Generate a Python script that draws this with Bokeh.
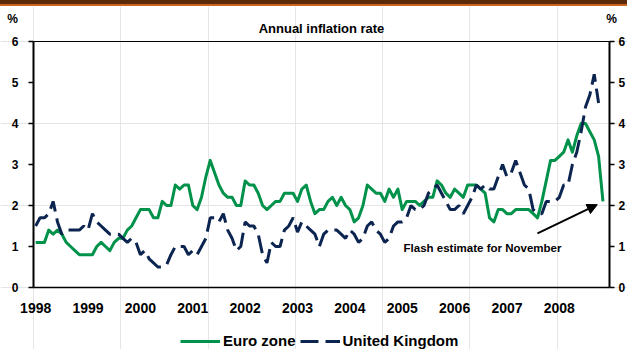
from bokeh.plotting import figure
from bokeh.models import Range1d, Label, Arrow, NormalHead, Legend, LegendItem, Spacer
from bokeh.core.properties import value
from bokeh.layouts import column
from bokeh.embed import file_html
from bokeh.resources import INLINE

# ---------------- data ----------------
years = ["1998", "1999", "2000", "2001", "2002", "2003", "2004", "2005", "2006", "2007", "2008"]
y_ticks = [0, 1, 2, 3, 4, 5, 6]

# monthly annual inflation, Jan 1998 - Nov 2008
euro_zone = [
    1.1, 1.1, 1.1, 1.4, 1.3, 1.4, 1.3, 1.1, 1.0, 0.9, 0.8, 0.8,
    0.8, 0.8, 1.0, 1.1, 1.0, 0.9, 1.1, 1.2, 1.2, 1.4, 1.5, 1.7,
    1.9, 1.9, 1.9, 1.7, 1.7, 2.1, 2.0, 2.0, 2.5, 2.4, 2.5, 2.5,
    2.0, 1.9, 2.2, 2.7, 3.1, 2.8, 2.5, 2.3, 2.2, 2.2, 2.0, 2.0,
    2.6, 2.5, 2.5, 2.3, 2.0, 1.9, 2.0, 2.1, 2.1, 2.3, 2.3, 2.3,
    2.1, 2.4, 2.5, 2.1, 1.8, 1.9, 1.9, 2.1, 2.2, 2.0, 2.2, 2.0,
    1.9, 1.6, 1.7, 2.0, 2.5, 2.4, 2.3, 2.3, 2.1, 2.4, 2.2, 2.4,
    1.9, 2.1, 2.1, 2.1, 2.0, 2.1, 2.2, 2.2, 2.6, 2.5, 2.3, 2.2,
    2.4, 2.3, 2.2, 2.5, 2.5, 2.5, 2.4, 2.3, 1.7, 1.6, 1.9, 1.9,
    1.8, 1.8, 1.9, 1.9, 1.9, 1.9, 1.8, 1.7, 2.1, 2.6, 3.1, 3.1,
    3.2, 3.3, 3.6, 3.3, 3.7, 4.0, 4.0, 3.8, 3.6, 3.2, 2.1,
]
# Jan 1998 - Oct 2008
united_kingdom = [
    1.5, 1.7, 1.7, 1.8, 2.1, 1.6, 1.3, 1.4, 1.4, 1.4, 1.4, 1.5,
    1.4, 1.8, 1.6, 1.5, 1.4, 1.3, 1.3, 1.3, 1.2, 1.1, 1.2, 1.1,
    0.8, 0.9, 0.7, 0.6, 0.5, 0.5, 0.55, 0.8, 1.0, 1.0, 1.0, 0.8,
    0.9, 0.8, 1.0, 1.2, 1.7, 1.7, 1.6, 1.8, 1.4, 1.2, 0.9, 1.0,
    1.6, 1.5, 1.5, 1.3, 0.8, 0.6, 1.1, 1.0, 1.0, 1.4, 1.5, 1.7,
    1.35, 1.6, 1.5, 1.4, 1.3, 1.0, 1.3, 1.4, 1.4, 1.4, 1.3, 1.2,
    1.4, 1.3, 1.1, 1.2, 1.5, 1.6, 1.4, 1.3, 1.1, 1.2, 1.5, 1.6,
    1.6, 1.7, 2.0, 1.9, 1.9, 2.0, 2.3, 2.4, 2.5, 2.3, 2.1, 1.9,
    1.9, 2.0, 1.8, 2.0, 2.2, 2.5, 2.4, 2.5, 2.4, 2.4, 2.7, 3.0,
    2.7, 2.8, 3.1, 2.8, 2.5, 2.4, 1.9, 1.8, 1.8, 2.1, 2.1, 2.1,
    2.2, 2.5, 2.5, 3.0, 3.3, 3.8, 4.4, 4.7, 5.2, 4.5,
]

# ---------------- geometry (pixels) ----------------
W, H = 627, 343                   # figure canvas (a 6px banner sits above it)
PLOT_L, PLOT_R = 33, 609          # plot-area edges, px from canvas left
PLOT_B, PLOT_T = 62, 308          # plot-area edges, px from canvas bottom
n_months = 12 * len(years)
y_max = y_ticks[-1]
sx = (PLOT_R - PLOT_L) / n_months        # px per month
sy = (PLOT_T - PLOT_B) / y_max           # px per percentage point
def px_x(px):  # canvas px -> months
    return (px - PLOT_L) / sx
def px_y(px):  # canvas px (from bottom) -> %
    return (px - PLOT_B) / sy

x_euro = [i + 0.5 for i in range(len(euro_zone))]
x_uk = [i + 0.5 for i in range(len(united_kingdom))]

GREEN = "#00924a"
NAVY = "#0c2550"
FONT = "Liberation Sans"

p = figure(width=W, height=H, output_backend="svg", toolbar_location=None,
           x_range=Range1d(px_x(0), px_x(W)), y_range=Range1d(px_y(0), px_y(H)),
           x_axis_location=None, y_axis_location=None,
           min_border=0, min_border_left=0, min_border_right=0,
           min_border_top=0, min_border_bottom=0,
           background_fill_color="white", border_fill_color="white",
           outline_line_color=None)
p.title.text = ""

# ---------------- axes and plot-area box ----------------
tick = 5 / sx
p.segment(x0=[0, 0, n_months, 0], y0=[0, y_max, 0, 0],
          x1=[n_months, n_months, n_months, 0], y1=[0, y_max, y_max, y_max],
          line_color="black", line_width=[1.5, 1, 2, 2])
p.segment(x0=[0] * len(y_ticks), x1=[-tick] * len(y_ticks), y0=y_ticks, y1=y_ticks,
          line_color="black", line_width=1.5)
p.segment(x0=[n_months] * len(y_ticks), x1=[n_months + tick] * len(y_ticks),
          y0=y_ticks, y1=y_ticks, line_color="black", line_width=1.5)

ylab = [str(v) for v in y_ticks]
p.text(x=[-15 / sx] * len(y_ticks), y=y_ticks, text=ylab, text_align="right",
       text_baseline="middle", text_font=value(FONT), text_font_style="bold",
       text_font_size="12px", text_color="black")
p.text(x=[n_months + 9 / sx] * len(y_ticks), y=y_ticks, text=ylab, text_align="left",
       text_baseline="middle", text_font=value(FONT), text_font_style="bold",
       text_font_size="12px", text_color="black")
p.text(x=[0.5 + 12 * k for k in range(len(years))], y=[-20.5 / sy] * len(years), text=years,
       text_align="center", text_baseline="middle", text_font=value(FONT),
       text_font_style="bold", text_font_size="14px", text_color="black")

# ---------------- series ----------------
eu = p.line(x_euro, euro_zone, line_color=GREEN, line_width=3, line_join="round")
uk = p.line(x_uk, united_kingdom, line_color=NAVY, line_width=3, line_dash="18 7")

# ---------------- texts ----------------
common = dict(text_font=FONT, text_font_style="bold", text_color="black")
p.add_layout(Label(x=n_months / 2, y=px_y(H - 22), text="Annual inflation rate",
                   text_align="center", text_baseline="middle", text_font_size="13px", **common))
p.add_layout(Label(x=px_x(12), y=px_y(H - 12), text="%", text_align="center",
                   text_baseline="middle", text_font_size="12px", **common))
p.add_layout(Label(x=px_x(611), y=px_y(H - 12), text="%", text_align="center",
                   text_baseline="middle", text_font_size="12px", **common))
p.add_layout(Label(x=84.8, y=0.97, text="Flash estimate for November", text_align="left",
                   text_baseline="middle", text_font_size="11.5px", **common))
p.add_layout(Arrow(x_start=115.5, y_start=1.32, x_end=129.2, y_end=2.02,
                   line_color="black", line_width=2,
                   end=NormalHead(size=10, fill_color="black", line_color="black")))

legend = Legend(items=[LegendItem(label="Euro zone", renderers=[eu]),
                       LegendItem(label="United Kingdom", renderers=[uk])],
                orientation="horizontal", location=(180, 0),
                border_line_color=None, background_fill_alpha=0,
                padding=0, margin=0, spacing=4, glyph_width=40, glyph_height=14,
                label_height=14, label_standoff=3,
                label_text_font=FONT, label_text_font_style="bold",
                label_text_font_size="15px", label_text_color="black")
p.add_layout(legend)

bar = Spacer(width=627, height=6, styles={
    "background": "linear-gradient(#5a2a0a 0px, #5a2a0a 4px, #c8641e 4px, #c8641e 6px)"})

layout = column(bar, p, spacing=0)
open("out.html", "w").write(file_html(layout, INLINE))
